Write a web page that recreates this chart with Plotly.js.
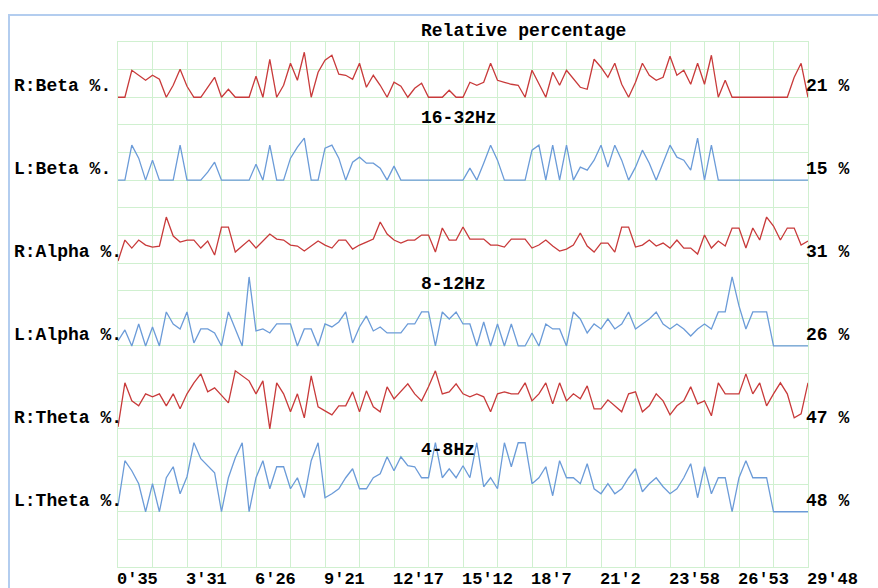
<!DOCTYPE html>
<html>
<head>
<meta charset="utf-8">
<script src="https://cdn.plot.ly/plotly-3.0.1.min.js"></script>
<style>
html,body{margin:0;padding:0;background:#fff;width:878px;height:588px;overflow:hidden;}
#frame{position:absolute;left:8px;top:14px;width:900px;height:600px;border-left:2px solid #b3cdef;border-top:2px solid #b3cdef;}
#chart{position:absolute;left:0;top:0;width:878px;height:588px;}
</style>
</head>
<body>
<div id="frame"></div>
<div id="chart"></div>
<script>
// Time tick labels (every second grid column)
const timeLabels = ["0'35","3'31","6'26","9'21","12'17","15'12","18'7","21'2","23'58","26'53","29'48"];

// Series names (left) and current values (right)
const seriesNames = ["R:Beta %.","L:Beta %.","R:Alpha %.","L:Alpha %.","R:Theta %.","L:Theta %."];
const currentValues = ["21 %","15 %","31 %","26 %","47 %","48 %"];
const bandTitles = ["16-32Hz","8-12Hz","4-8Hz"];
const chartTitle = "Relative percentage";

// Relative level of each series above its own band baseline
const rBeta = [0,0,27,22,17,22,18,0,12,28, 11,0,0,10,20,0,8,0,0,0, 21,0,38,0,12,34,17,45,0,25,
  37,42,23,22,18,34,10,22,12,0, 15,11,0,9,14,0,0,
  0,7,0,0, 15,12,15,34,17,15,13,12,0,27, 13,0,25,12,27,18,10,8,38,30,
  20,34,13,0,15,34,22,17,20,41, 22,27,13,34,13,42,0,17,0,0, 0,0,0,0,0,0,0,20,34,0];
const lBeta = [0,0,35,22,0,20,0,0,0,35, 0,0,0,8,18,0,0,0,0,0, 16,0,35,0,0,22,33,42,0,0,
  32,35,22,0,18,23,17,17,12,0, 14,0,0,0,0,0,0,
  0,0,0,0, 12,0,17,35,20,0,0,0,0,30, 35,0,35,0,35,0,13,10,20,35,
  13,35,20,0,13,30,17,0,17,35, 23,20,10,42,0,35,0,0,0,0, 0,0,0,0,0,0,0,0,0,0];
const rAlpha = [2,23,15,23,18,16,17,46,27,21, 23,23,15,22,8,36,36,11,17,23, 15,22,29,24,23,18,17,12,17,22,
  18,15,23,23,14,18,21,24,41,29, 23,20,23,23,28,28,11,35,23,23, 36,
  24,24,24,18,18,16,24,24,24,15, 18,23,17,12,14,18,30,17,11,20, 20,11,36,36,16,18,23,17,20,15,
  23,15,15,9,28,15,22,17,35,35, 15,35,23,46,37,23,35,35,18,22];
const lAlpha = [5,16,0,22,0,19,0,34,22,17, 34,3,17,17,13,0,34,17,0,69, 15,17,13,22,22,22,0,17,17,0,
  22,19,24,34,3,19,30,15,19,13, 13,13,22,22,34,34,0,34,27,34, 22,
  22,0,24,0,22,0,22,0,0,13, 0,22,17,17,0,34,27,13,22,17, 27,17,22,34,17,22,27,34,22,17,
  22,17,10,17,22,17,34,34,69,40, 17,34,34,34,0,0,0,0,0,0];
const rTheta = [2,46,28,23,35,32,35,23,35,20, 35,46,55,37,41,33,26,58,53,48, 35,48,0,46,35,17,35,11,53,22,
  18,14,23,23,37,17,38,22,17,42, 30,38,45,35,28,42,58,35,37,45, 35,
  32,35,32,17,35,37,35,35,46,28, 35,46,25,46,28,35,30,43,20,20, 29,23,17,35,37,17,23,35,28,14,
  23,28,42,25,28,13,46,35,35,35, 55,35,46,23,35,46,35,11,15,46];
const lTheta = [6,51,41,28,0,28,0,34,45,18, 35,69,53,46,39,0,34,54,69,0, 34,51,23,45,45,23,34,14,51,69,
  14,18,23,34,43,23,23,34,38,55, 41,55,46,45,34,34,69,34,43,34, 46,
  34,69,25,34,23,69,45,69,69,28, 34,45,16,51,34,34,28,48,23,18, 28,18,23,34,43,20,28,34,25,18,
  23,34,48,14,45,18,34,34,0,34, 51,34,34,34,0,0,0,0,0,0];

const seriesData = [rBeta,lBeta,rAlpha,lAlpha,rTheta,lTheta];

// ---- layout / styling ----
const RED = '#c83a3a', BLUE = '#6b9bd8', GRID = '#d0f0d0';
const colors = [RED,BLUE,RED,BLUE,RED,BLUE];
const W = 878, H = 588, ML = 118, MR = 70, MT = 42, MB = 21;
const PW = W-ML-MR, PH = H-MT-MB;
const ROWS = 19, COLS = 20, ROWPX = PH/ROWS;
const baseRows = [2,5,8,11,14,17];   // grid row (from top) used as each band's baseline
const FONT = 'Liberation Mono, DejaVu Sans Mono, monospace';

const px2x = p => (p-ML)/PW;
const px2y = p => (H-MB-p)/PH;

const traces = [{x:[],y:[],xaxis:'x',yaxis:'y',showlegend:false,hoverinfo:'skip'}];
seriesData.forEach((vals,k)=>{
  traces.push({type:'scatter',mode:'lines',y:vals,xaxis:'x',yaxis:'y'+(k+2),
    line:{color:colors[k],width:1.3},showlegend:false,hoverinfo:'skip'});
});

const nPts = rBeta.length-1;
const tickvals = [];
for (let j=0;j<=COLS;j++){ tickvals.push(j*nPts/COLS); }

const layout = {
  width:W,height:H,
  margin:{l:ML,r:MR,t:MT,b:MB,pad:0},
  paper_bgcolor:'rgba(0,0,0,0)',plot_bgcolor:'rgba(0,0,0,0)',
  showlegend:false,
  font:{family:FONT,color:'#000'},
  xaxis:{range:[0,nPts],tickmode:'array',tickvals:tickvals,showticklabels:false,
    showgrid:true,gridcolor:GRID,gridwidth:1,zeroline:false,showline:true,mirror:true,
    linecolor:GRID,linewidth:1,ticks:'',automargin:false,fixedrange:true},
  yaxis:{range:[0,ROWS],tick0:0,dtick:1,showticklabels:false,showgrid:true,gridcolor:GRID,
    zeroline:false,showline:true,mirror:true,linecolor:GRID,ticks:'',automargin:false,fixedrange:true},
  annotations:[]
};
baseRows.forEach((b,k)=>{
  layout['yaxis'+(k+2)] = {overlaying:'y',visible:false,fixedrange:true,
    range:[-(ROWS-b)*ROWPX, b*ROWPX]};
});

const annFont = {family:FONT,size:18,color:'#000',weight:'bold'};
const ann = (text,xp,yp) => ({text:text,xref:'paper',yref:'paper',x:px2x(xp),y:px2y(yp),
  xanchor:'left',yanchor:'middle',showarrow:false,font:annFont});
layout.annotations.push(ann(chartTitle,419,31));
const bandY = [118,284,450];
bandTitles.forEach((t,i)=>layout.annotations.push(ann(t,419,bandY[i])));
const labelY = [86,169,252,335,418,501];
seriesNames.forEach((t,i)=>{
  layout.annotations.push(ann(t,12,labelY[i]));
  layout.annotations.push(ann(currentValues[i],804,labelY[i]));
});
// time labels: left-aligned at every second grid line
timeLabels.forEach((t,i)=>{
  layout.annotations.push({text:t,xref:'x',yref:'paper',x:i*2*nPts/COLS,y:px2y(579),
    xanchor:'left',yanchor:'middle',xshift:-3,showarrow:false,
    font:{family:FONT,size:17,color:'#000',weight:'bold'}});
});

Plotly.newPlot('chart',traces,layout,{displayModeBar:false,staticPlot:true});
</script>
</body>
</html>
